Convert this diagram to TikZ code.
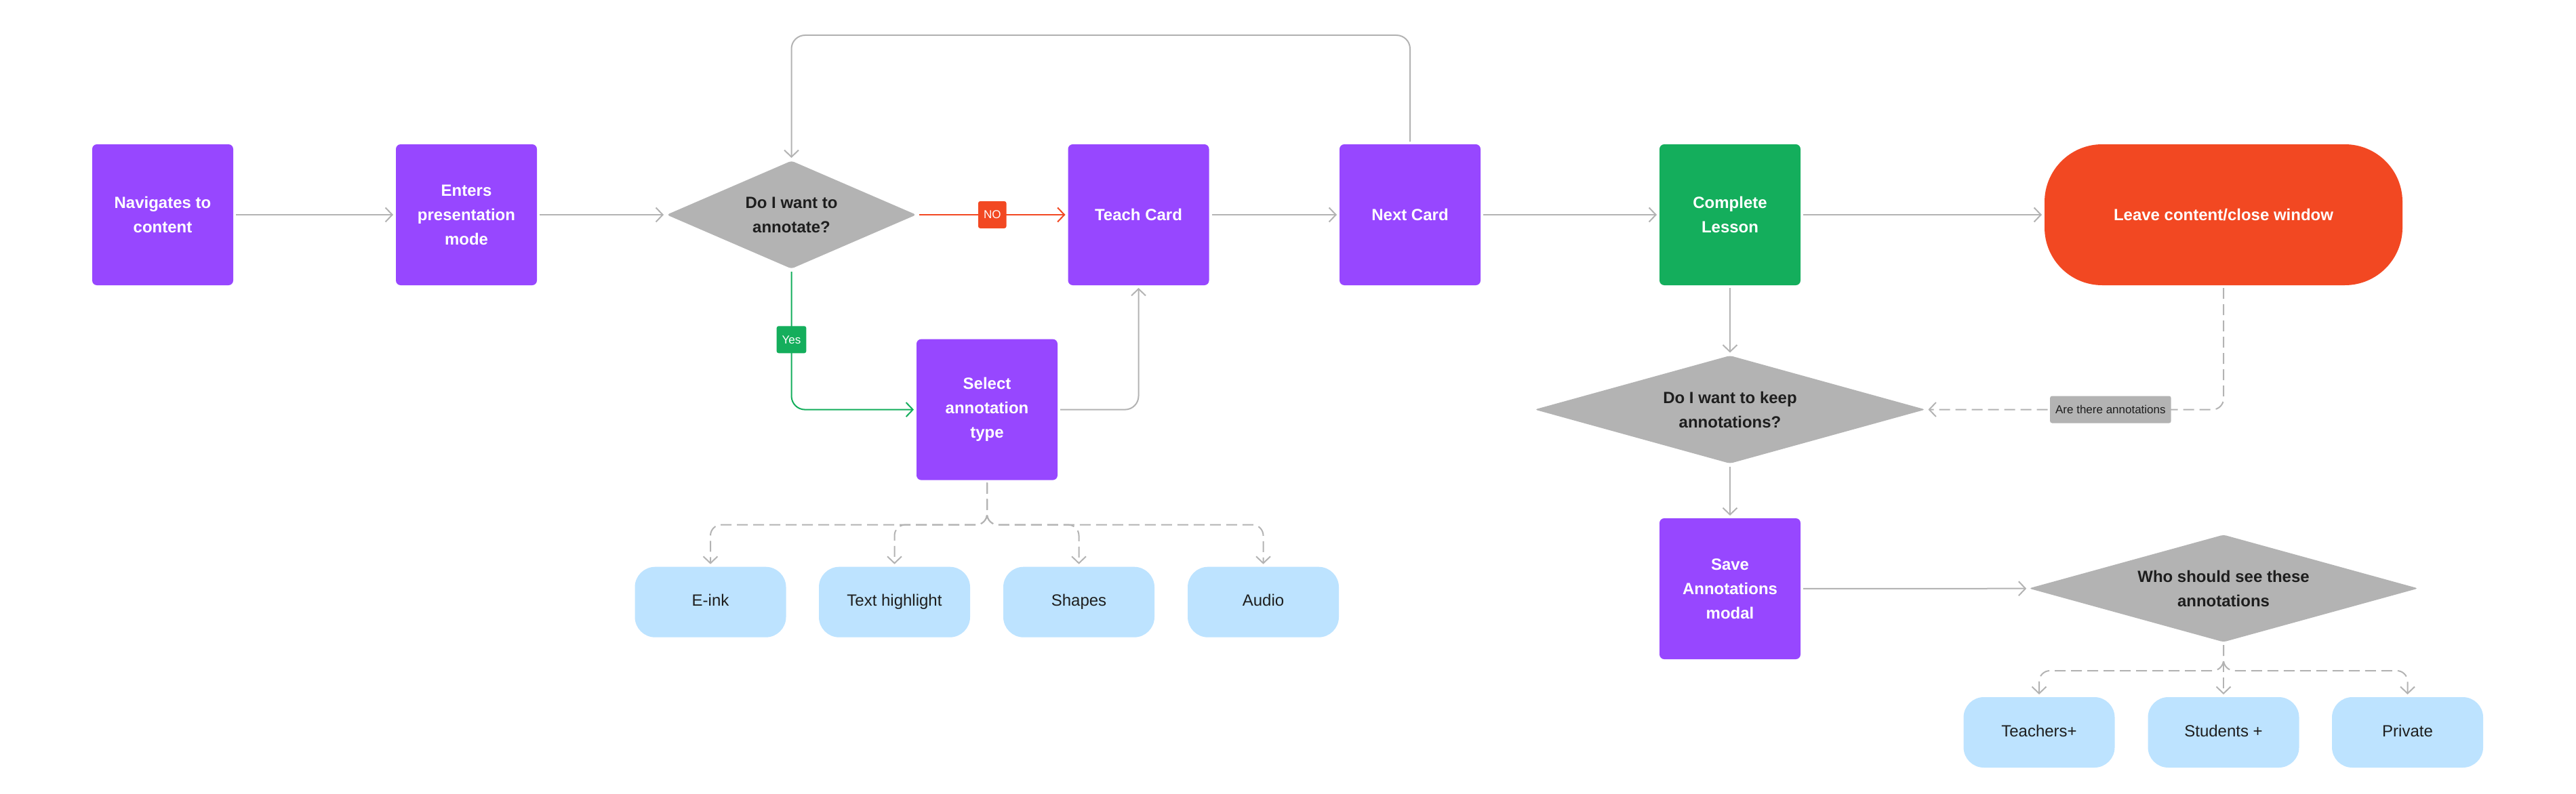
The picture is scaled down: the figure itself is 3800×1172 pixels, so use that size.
\documentclass[tikz,border=0pt]{standalone}
\usepackage{fontspec}
\setmainfont{Liberation Sans}
\usetikzlibrary{arrows.meta,shapes.geometric}

\tikzset{every picture/.style={line width=2pt}}
\tikzset{
  card/.style={rectangle, rounded corners=7pt, minimum width=208pt, minimum height=208pt, inner sep=0pt, align=center, text=white, font=\bfseries\fontsize{24}{36}\selectfont, fill={rgb, 255:red, 151; green, 71; blue, 255}},
  finish/.style={card, fill={rgb, 255:red, 20; green, 174; blue, 92}},
  quit/.style={card, rounded corners=85pt, minimum width=528pt, fill={rgb, 255:red, 242; green, 72; blue, 34}},
  ask/.style={diamond, rounded corners=4pt, inner sep=0pt, minimum height=160pt, align=center, text={rgb, 255:red, 30; green, 30; blue, 30}, font=\bfseries\fontsize{24}{36}\selectfont, fill={rgb, 255:red, 179; green, 179; blue, 179}},
  option/.style={rectangle, rounded corners=30pt, minimum width=223pt, minimum height=104pt, inner sep=0pt, text height=17pt, text depth=5pt, align=center, text={rgb, 255:red, 30; green, 30; blue, 30}, font=\fontsize{24}{36}\selectfont, fill={rgb, 255:red, 189; green, 227; blue, 255}},
  tag/.style={rectangle, rounded corners=3pt, minimum width=40pt, minimum height=40pt, inner xsep=8pt, inner ysep=0pt, font=\fontsize{17}{20}\selectfont},
  notag/.style={tag, text=white, fill={rgb, 255:red, 242; green, 72; blue, 34}},
  yestag/.style={tag, text=white, fill={rgb, 255:red, 20; green, 174; blue, 92}},
  asktag/.style={tag, text={rgb, 255:red, 30; green, 30; blue, 30}, fill={rgb, 255:red, 179; green, 179; blue, 179}},
  link/.style={draw={rgb, 255:red, 179; green, 179; blue, 179}, -{Straight Barb[length=10pt,width=21pt]}, shorten >=3pt, shorten <=3pt},
  hint/.style={link, dash pattern=on 16pt off 8pt, rounded corners=16pt},
}

\begin{document}
\begin{tikzpicture}[x=1pt,y=1pt,yscale=-1,xscale=1]
\useasboundingbox (0,0) rectangle (3800,1172);

%Shape: Rectangle
\node[card] (nav) at (240,317) {Navigates to\\content};
\node[card] (enter) at (688,317) {Enters\\presentation\\mode};
%Shape: Diamond
\node[ask, aspect=2.31, minimum width=369pt] (q1) at (1167.5,317) {Do I want to\\annotate?};
\node[card] (teach) at (1679.5,317) {Teach Card};
\node[card] (next) at (2080,317) {Next Card};
\node[finish] (done) at (2552,317) {Complete\\Lesson};
%Shape: Rounded Rect
\node[quit] (leave) at (3280,317) {Leave content/close window};
\node[card] (select) at (1456,604.6) {Select\\annotation\\type};
%Annotation types
\node[option] (eink) at (1048,888.7) {E-ink};
\node[option] (hilite) at (1319.5,888.7) {Text highlight};
\node[option] (shapes) at (1591.5,888.7) {Shapes};
\node[option] (audio) at (1863.5,888.7) {Audio};
%Keep annotations
\node[ask, aspect=3.6, minimum width=577pt] (q2) at (2552,604.5) {Do I want to keep\\annotations?};
\node[card] (save) at (2552,869) {Save\\Annotations\\modal};
\node[ask, aspect=3.6, minimum width=575pt, minimum height=159pt] (q3) at (3280,868.5) {Who should see these\\annotations};
%Audience
\node[option] (teachers) at (3008,1081) {Teachers+};
\node[option] (students) at (3280,1081) {Students +};
\node[option] (private) at (3551.5,1081) {Private};

%Straight Lines
\draw[link] (nav) -- (enter);
\draw[link] (enter) -- (q1);
\draw[link, draw={rgb, 255:red, 242; green, 72; blue, 34}] (q1) -- node[notag] {NO} (teach);
\draw[link] (teach) -- (next);
\draw[link] (next) -- (done);
\draw[link] (done) -- (leave);
%Loop back
\draw[link, rounded corners=20pt] (next.north) -- ++(0,-160) -| (q1.north);
\draw[link, draw={rgb, 255:red, 20; green, 174; blue, 92}, rounded corners=20pt] (q1.south) |- node[pos=0.25, yestag] {Yes} (select.west);
\draw[link, rounded corners=20pt] (select.east) -| (teach.south);
\foreach \opt in {eink,hilite,shapes,audio}
  \draw[hint] (select.south) -- ++(0,65) -| (\opt.north);
%After the lesson
\draw[link] (done) -- (q2);
\draw[hint] (leave.south) |- node[pos=0.69, asktag] {Are there annotations} (q2.east);
\draw[link] (q2) -- (save);
\draw[link] (save) -- (q3);
\foreach \who in {teachers,private}
  \draw[hint] (q3.south) -- ++(0,41) -| (\who.north);
\draw[hint] (q3) -- (students);

\end{tikzpicture}
\end{document}
